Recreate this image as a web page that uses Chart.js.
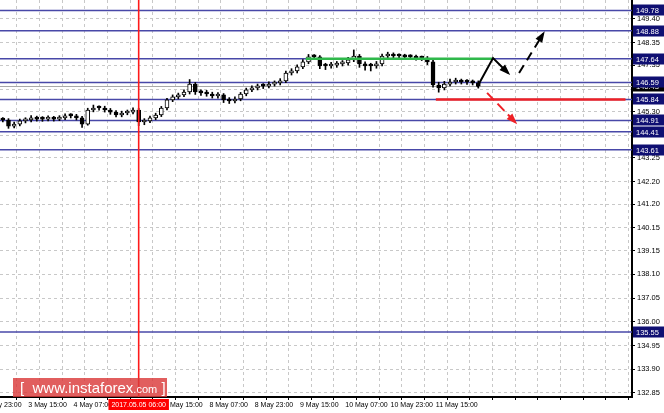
<!DOCTYPE html>
<html>
<head>
<meta charset="utf-8">
<script src="https://cdn.jsdelivr.net/npm/chart.js@4"></script>
<style>
  html, body { margin: 0; padding: 0; background: #fff; }
</style>
</head>
<body>
<canvas id="chart" width="664" height="413"></canvas>
<script>
const FONT = "'Liberation Sans', Arial, sans-serif";

// 2-hour candles (x axis is counted in H1 bars)
const opens = [144.97, 144.93, 144.66, 144.75, 144.89, 144.93, 145.02, 144.97, 144.97, 145.02,
  144.97, 145.02, 145.11, 145.11, 145.02, 144.75, 145.37, 145.46, 145.46, 145.37,
  145.28, 145.15, 145.24, 145.28, 145.37, 144.84, 144.89, 145.02, 145.15, 145.46,
  145.82, 145.95, 146.04, 146.17, 146.52, 146.17, 146.13, 146.08, 145.99, 146.04,
  145.82, 145.77, 145.86, 146.08, 146.26, 146.35, 146.43, 146.43, 146.52, 146.57,
  146.66, 147.01, 147.10, 147.28, 147.50, 147.72, 147.72, 147.32, 147.32, 147.36,
  147.41, 147.45, 147.59, 147.76, 147.41, 147.32, 147.32, 147.41, 147.76, 147.81,
  147.76, 147.76, 147.72, 147.72, 147.67, 147.67, 147.50, 146.48, 146.35, 146.52,
  146.61, 146.66, 146.61, 146.61, 146.57];
const highs = [145.04, 144.99, 144.84, 144.97, 145.03, 145.12, 145.10, 145.08, 145.11, 145.09,
  145.12, 145.20, 145.21, 145.18, 145.09, 145.45, 145.59, 145.56, 145.54, 145.44,
  145.35, 145.32, 145.37, 145.47, 145.45, 144.99, 145.10, 145.23, 145.53, 145.89,
  146.04, 146.12, 146.26, 146.72, 146.59, 146.26, 146.24, 146.16, 146.14, 146.10,
  145.92, 145.96, 146.15, 146.34, 146.44, 146.52, 146.54, 146.62, 146.66, 146.76,
  147.09, 147.20, 147.37, 147.60, 147.83, 147.82, 147.78, 147.44, 147.48, 147.52,
  147.56, 147.70, 148.03, 147.83, 147.50, 147.44, 147.52, 147.85, 147.93, 147.90,
  147.86, 147.84, 147.82, 147.80, 147.76, 147.74, 147.57, 146.60, 146.64, 146.74,
  146.78, 146.74, 146.72, 146.70, 146.66];
const lows = [144.84, 144.56, 144.58, 144.67, 144.80, 144.84, 144.88, 144.87, 144.89, 144.88,
  144.90, 144.94, 145.02, 144.93, 144.60, 144.70, 145.29, 145.36, 145.28, 145.18,
  145.06, 145.07, 145.16, 145.20, 144.68, 144.72, 144.81, 144.94, 145.08, 145.38,
  145.74, 145.86, 145.96, 146.08, 146.06, 146.02, 145.98, 145.90, 145.89, 145.70,
  145.66, 145.68, 145.78, 146.00, 146.18, 146.26, 146.32, 146.35, 146.43, 146.48,
  146.58, 146.92, 147.01, 147.20, 147.42, 147.60, 147.20, 147.16, 147.22, 147.26,
  147.32, 147.36, 147.51, 147.26, 147.14, 147.10, 147.22, 147.32, 147.68, 147.66,
  147.66, 147.62, 147.62, 147.58, 147.56, 147.38, 146.38, 146.16, 146.26, 146.44,
  146.52, 146.52, 146.50, 146.48, 146.34];
const closes = [144.93, 144.66, 144.75, 144.89, 144.93, 145.02, 144.97, 144.97, 145.02, 144.97,
  145.02, 145.11, 145.11, 145.02, 144.75, 145.37, 145.46, 145.46, 145.37, 145.28,
  145.15, 145.24, 145.28, 145.37, 144.84, 144.89, 145.02, 145.15, 145.46, 145.82,
  145.95, 146.04, 146.17, 146.52, 146.17, 146.13, 146.08, 145.99, 146.04, 145.82,
  145.77, 145.86, 146.08, 146.26, 146.35, 146.43, 146.43, 146.52, 146.57, 146.66,
  147.01, 147.10, 147.28, 147.50, 147.72, 147.72, 147.32, 147.32, 147.36, 147.41,
  147.45, 147.59, 147.76, 147.41, 147.32, 147.32, 147.41, 147.76, 147.81, 147.76,
  147.76, 147.72, 147.72, 147.67, 147.67, 147.50, 146.48, 146.35, 146.52, 146.61,
  146.66, 146.61, 146.61, 146.57, 146.43];

// time axis (H1 bar index), grid every 8 bars
const labelHours = [-6, 10, 26, 42, 58, 74, 90, 106, 122, 138, 154];
const labelTexts = ['2 May 23:00', '3 May 15:00', '4 May 07:00', '4 May 23:00', '5 May 15:00',
  '8 May 07:00', '8 May 23:00', '9 May 15:00', '10 May 07:00', '10 May 23:00', '11 May 15:00'];
const gridHours = [-6, 2, 10, 18, 26, 34, 42, 50, 58, 66, 74, 82, 90, 98, 106, 114, 122, 130,
  138, 146, 154, 162, 170, 178, 186, 194, 202, 210, 218];

// price axis
const yTicks = [149.40, 148.35, 147.35, 146.30, 145.30, 144.25, 143.25, 142.20, 141.20,
  140.15, 139.15, 138.10, 137.05, 136.00, 134.95, 133.90, 132.85];
const levels = [149.78, 148.88, 147.64, 146.59, 145.84, 144.91, 144.41, 143.61, 135.55];
const bidPrice = 146.43;

// marks drawn on top
const dateLineHour = 49;
const dateLineText = '2017.05.05 06:00';
const greenLine = { from: 108, to: 174, price: 147.64 };
const redLine = { from: 154, to: 221, price: 145.84 };
const upPath = [[168.6, 146.39], [174.2, 147.67], [179.5, 147.01]];
const upDashed = [[183.4, 147.01], [191.9, 148.74]];
const downDashed = [[172.1, 146.13], [182.0, 144.84]];

const barHours = closes.map((c, i) => 2 * i + 1);

function arrow(ctx, x, y, pts, color, dash, head) {
  const p = pts.map(([h, v]) => [x.getPixelForValue(h), y.getPixelForValue(v)]);
  ctx.save();
  ctx.strokeStyle = color;
  ctx.fillStyle = color;
  ctx.lineWidth = 2;
  ctx.setLineDash(dash);
  ctx.beginPath();
  ctx.moveTo(p[0][0], p[0][1]);
  for (let i = 1; i < p.length; i++) ctx.lineTo(p[i][0], p[i][1]);
  ctx.stroke();
  if (head) {
    const [ax, ay] = p[p.length - 2];
    const [bx, by] = p[p.length - 1];
    const ang = Math.atan2(by - ay, bx - ax);
    ctx.setLineDash([]);
    ctx.beginPath();
    ctx.moveTo(bx + 3 * Math.cos(ang), by + 3 * Math.sin(ang));
    ctx.lineTo(bx - 9 * Math.cos(ang - 0.45), by - 9 * Math.sin(ang - 0.45));
    ctx.lineTo(bx - 9 * Math.cos(ang + 0.45), by - 9 * Math.sin(ang + 0.45));
    ctx.closePath();
    ctx.fill();
  }
  ctx.restore();
}

function priceBox(ctx, a, y, value, fill) {
  const py = Math.round(y.getPixelForValue(value));
  ctx.fillStyle = fill;
  ctx.fillRect(a.right + 1, py - 5.5, 31, 11);
  ctx.fillStyle = '#fff';
  ctx.font = '7.5px ' + FONT;
  ctx.textAlign = 'left';
  ctx.textBaseline = 'middle';
  ctx.fillText(value.toFixed(2), a.right + 4, py + 0.5);
}

const overlay = {
  id: 'overlay',
  beforeDatasetsDraw(chart) {
    const { ctx, chartArea: a, scales: { x, y } } = chart;
    ctx.save();
    ctx.beginPath();
    ctx.rect(a.left, a.top, a.width, a.height);
    ctx.clip();
    ctx.strokeStyle = '#a8a8a8';
    ctx.lineWidth = 1;
    let py = Math.round(y.getPixelForValue(bidPrice)) + 0.5;
    ctx.beginPath(); ctx.moveTo(a.left, py); ctx.lineTo(a.right, py); ctx.stroke();
    ctx.strokeStyle = '#4848a8';
    ctx.lineWidth = 1.5;
    levels.forEach(v => {
      py = y.getPixelForValue(v);
      ctx.beginPath(); ctx.moveTo(a.left, py); ctx.lineTo(a.right, py); ctx.stroke();
    });
    ctx.restore();
  },
  afterDatasetsDraw(chart) {
    const { ctx, chartArea: a, scales: { x, y } } = chart;
    ctx.save();
    ctx.beginPath();
    ctx.rect(a.left, a.top, a.width, a.height);
    ctx.clip();
    // date line
    const vx = x.getPixelForValue(dateLineHour);
    ctx.strokeStyle = '#ff1a1a';
    ctx.lineWidth = 1.6;
    ctx.beginPath(); ctx.moveTo(vx, a.top); ctx.lineTo(vx, a.bottom); ctx.stroke();
    // support / resistance segments
    ctx.lineWidth = 2.5;
    ctx.strokeStyle = '#2fb84a';
    let py = y.getPixelForValue(greenLine.price);
    ctx.beginPath();
    ctx.moveTo(x.getPixelForValue(greenLine.from), py);
    ctx.lineTo(x.getPixelForValue(greenLine.to), py);
    ctx.stroke();
    ctx.strokeStyle = '#ee2026';
    py = y.getPixelForValue(redLine.price);
    ctx.beginPath();
    ctx.moveTo(x.getPixelForValue(redLine.from), py);
    ctx.lineTo(x.getPixelForValue(redLine.to), py);
    ctx.stroke();
    ctx.restore();
    arrow(ctx, x, y, upPath, '#000', [], true);
    arrow(ctx, x, y, upDashed, '#000', [9, 6], true);
    arrow(ctx, x, y, downDashed, '#ee2026', [10, 5], true);
  },
  afterDraw(chart) {
    const { ctx, chartArea: a, scales: { x, y } } = chart;
    ctx.save();
    priceBox(ctx, a, y, bidPrice, '#000');
    levels.forEach(v => priceBox(ctx, a, y, v, '#0f0f72'));

    // date label on the time axis
    const vx = x.getPixelForValue(dateLineHour);
    ctx.font = '7px ' + FONT;
    const tw = ctx.measureText(dateLineText).width;
    ctx.fillStyle = '#ff0000';
    ctx.fillRect(vx - tw / 2 - 3, a.bottom + 2, tw + 6, 11);
    ctx.fillStyle = '#fff';
    ctx.textAlign = 'center';
    ctx.textBaseline = 'middle';
    ctx.fillText(dateLineText, vx, a.bottom + 8);

    // watermark
    ctx.fillStyle = 'rgba(218, 58, 58, 0.82)';
    ctx.fillRect(13, 378, 154, 19);
    ctx.fillStyle = '#fff';
    ctx.textAlign = 'left';
    ctx.textBaseline = 'alphabetic';
    let tx = 20;
    const part = (s, size) => {
      ctx.font = size + 'px ' + FONT;
      ctx.fillText(s, tx, 393);
      tx += ctx.measureText(s).width;
    };
    part('[  ', 15);
    part('www.instaforex', 15);
    part('.com', 11);
    part(' ]', 15);
    ctx.restore();
  }
};

const zeroPad = s => { s.paddingTop = 0; s.paddingBottom = 0; s.paddingLeft = 0; s.paddingRight = 0; };

new Chart(document.getElementById('chart').getContext('2d'), {
  type: 'bar',
  data: {
    datasets: [
      {
        label: 'body',
        data: barHours.map((h, i) => ({ x: h, y: [opens[i], closes[i]] })),
        backgroundColor: closes.map((c, i) => c > opens[i] ? '#ffffff' : '#000000'),
        borderColor: '#000',
        borderWidth: 1,
        borderSkipped: false,
        barThickness: 4,
        minBarLength: 2,
        grouped: false
      },
      {
        label: 'wick',
        data: barHours.map((h, i) => ({ x: h, y: [lows[i], highs[i]] })),
        backgroundColor: '#000',
        borderWidth: 0,
        barThickness: 1,
        grouped: false
      }
    ]
  },
  options: {
    responsive: false,
    animation: false,
    layout: { padding: 0 },
    plugins: { legend: { display: false }, tooltip: { enabled: false } },
    scales: {
      x: {
        type: 'linear',
        position: 'bottom',
        min: 0,
        max: 223.3,
        offset: false,
        afterBuildTicks: s => { s.ticks = gridHours.map(v => ({ value: v })); },
        afterFit: s => { s.height = 16; zeroPad(s); },
        grid: { color: '#c8c8c8', lineWidth: 1, tickLength: 3, tickColor: '#000' },
        border: { display: true, color: '#000', width: 2, dash: [3, 3] },
        ticks: {
          autoSkip: false,
          maxRotation: 0,
          align: 'start',
          padding: 1,
          color: '#000',
          font: { family: FONT, size: 7 },
          callback: v => { const k = labelHours.indexOf(v); return k >= 0 ? labelTexts[k] : ''; }
        }
      },
      y: {
        type: 'linear',
        position: 'right',
        min: 132.67,
        max: 150.24,
        afterBuildTicks: s => { s.ticks = yTicks.map(v => ({ value: v })); },
        afterFit: s => { s.width = 32; zeroPad(s); },
        grid: { color: '#c8c8c8', lineWidth: 1, tickLength: 3, tickColor: '#000' },
        border: { display: true, color: '#000', width: 2, dash: [3, 3] },
        ticks: {
          autoSkip: false,
          padding: 2,
          color: '#000',
          font: { family: FONT, size: 7.5 },
          callback: v => v.toFixed(2)
        }
      }
    }
  },
  plugins: [overlay]
});
</script>
</body>
</html>
